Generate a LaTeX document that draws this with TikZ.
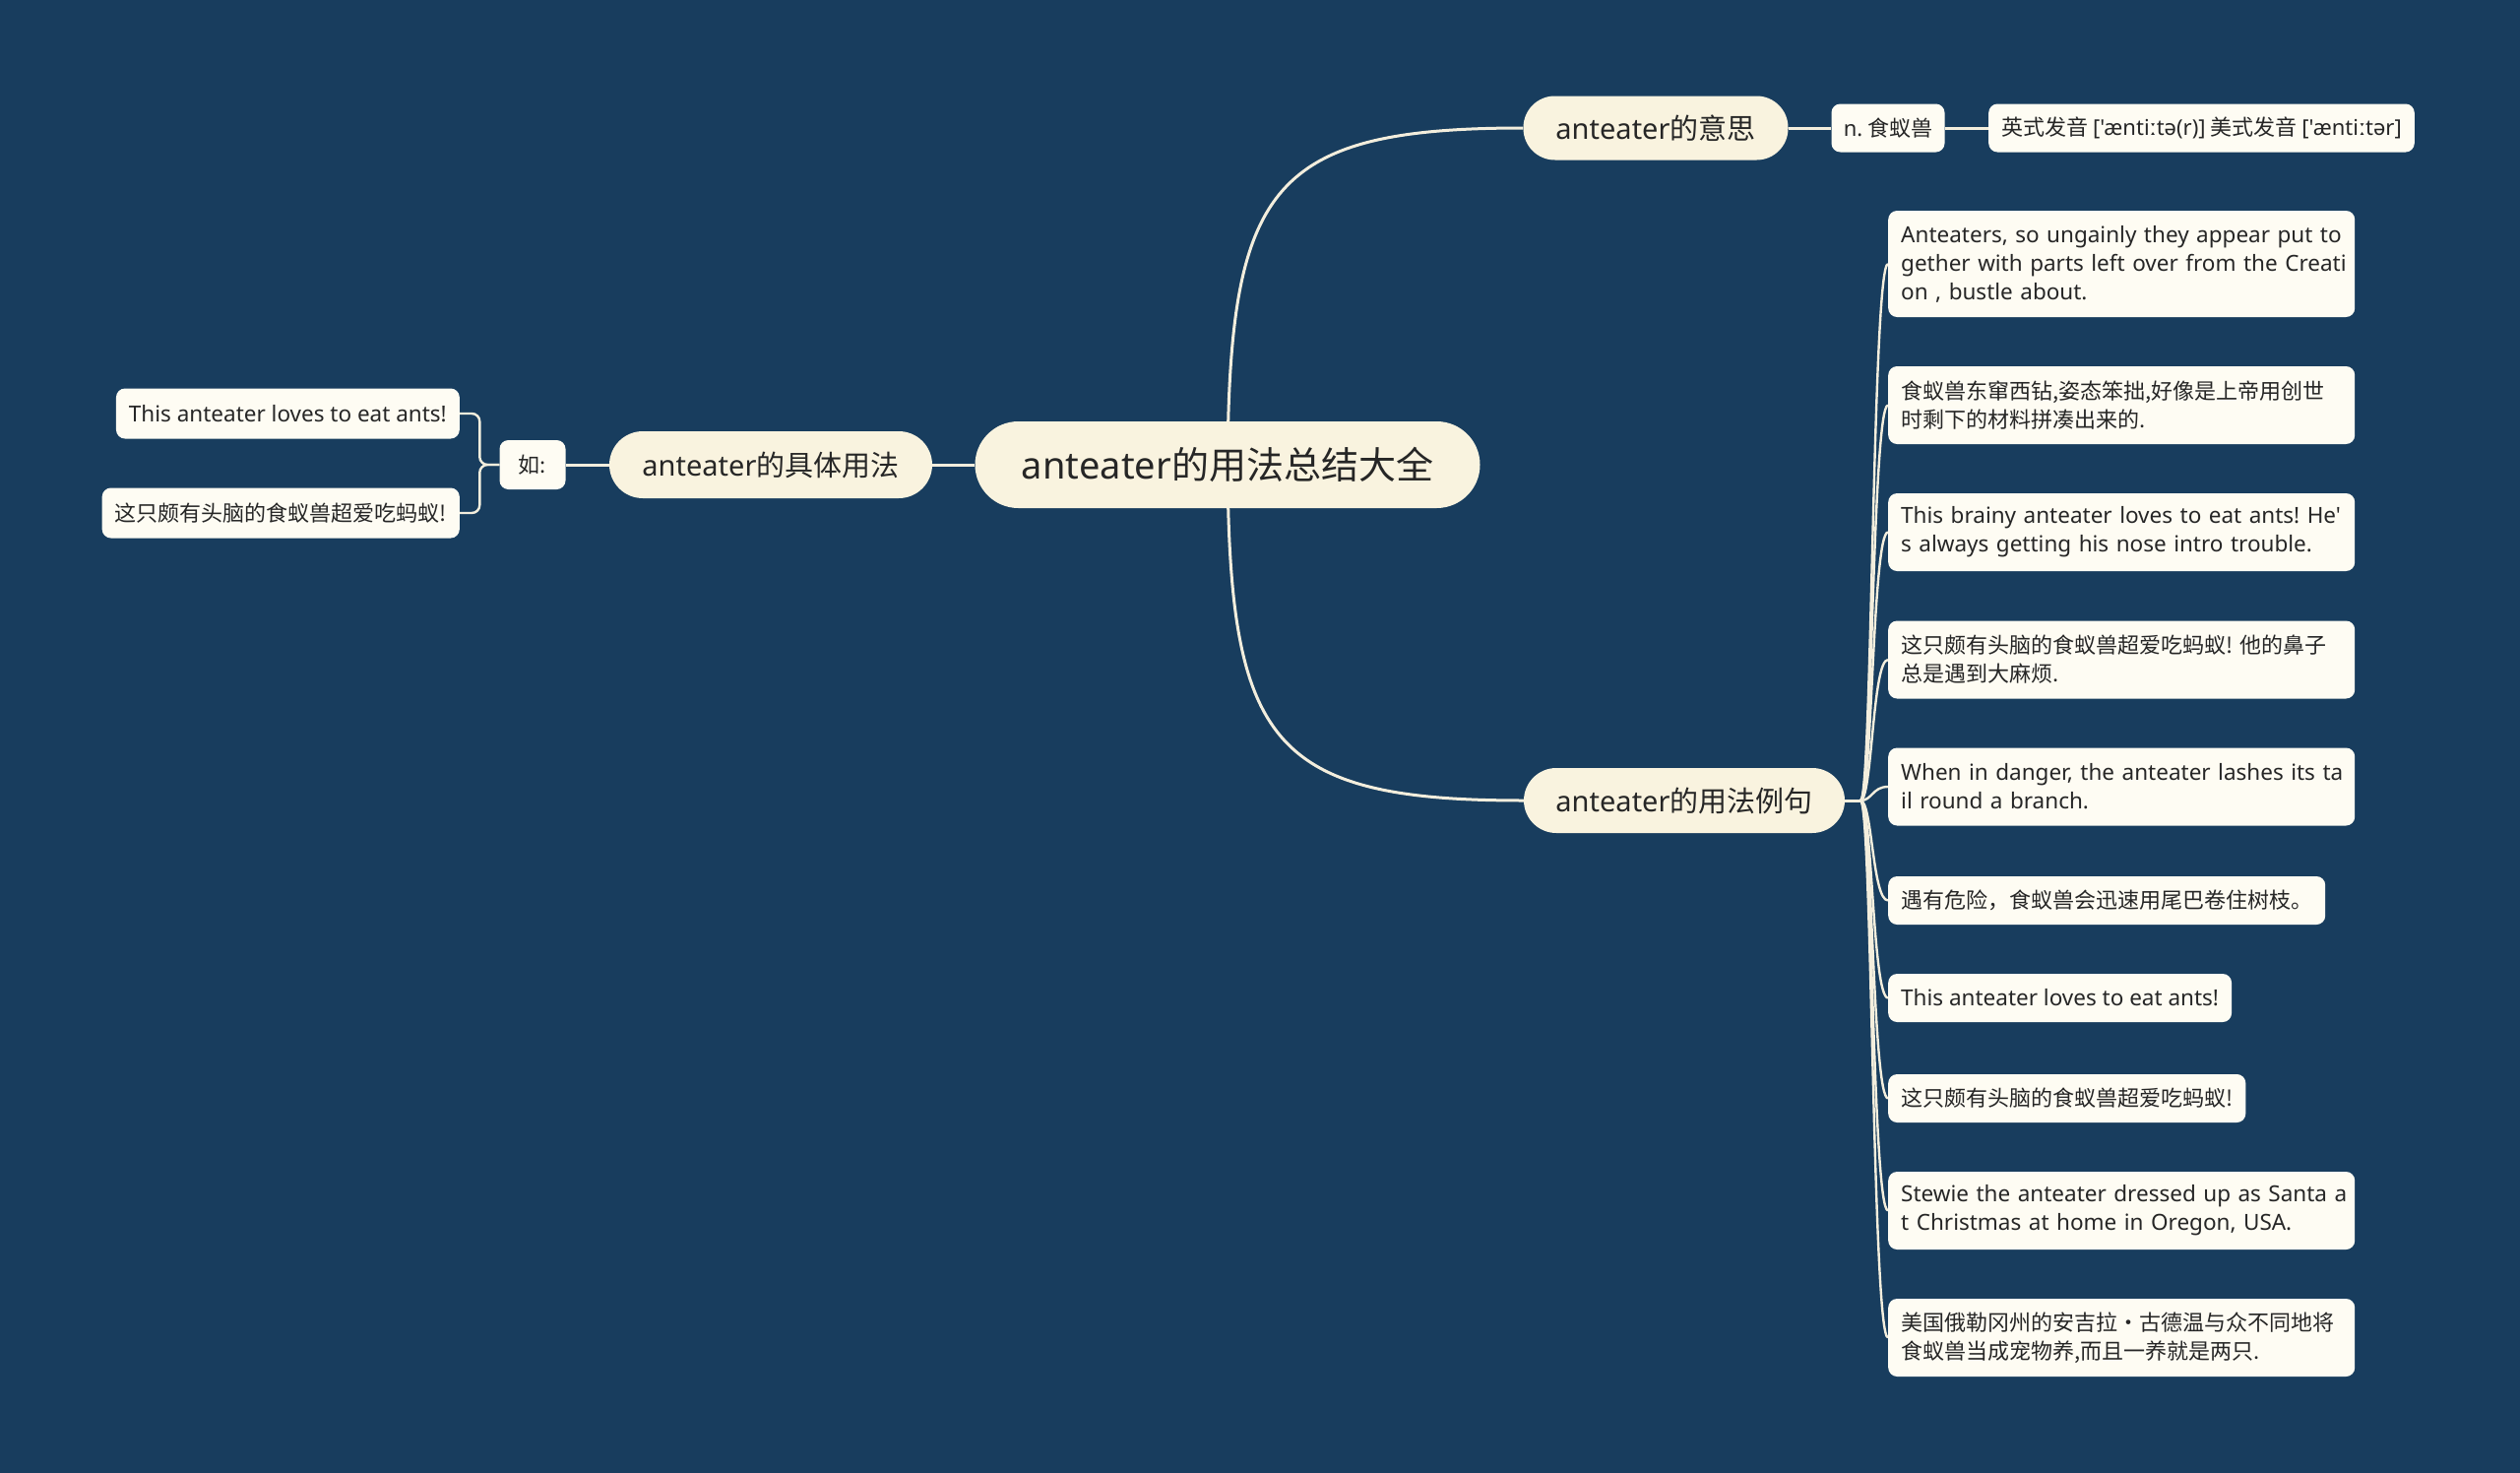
\documentclass[tikz,border=0pt]{standalone}
\usepackage{fontspec}
\setmainfont{Noto Sans CJK SC}
\newfontfamily\ipafont{Noto Sans}
\newfontfamily\lat{Noto Sans}
\usetikzlibrary{backgrounds}
\definecolor{bgc}{HTML}{183D5E}
\definecolor{mainfill}{HTML}{F9F3DF}
\definecolor{leaffill}{HTML}{FEFCF3}
\definecolor{linec}{HTML}{F3EEDD}
\definecolor{textc}{HTML}{262626}
\frenchspacing
\tikzset{
  mainnode/.style={fill=mainfill, text=textc, inner sep=0pt, font=\fontsize{29}{34}\selectfont},
  leafnode/.style={fill=leaffill, text=textc, rounded corners=9, inner xsep=13pt, inner ysep=0pt,
                   font=\fontsize{22}{29}\selectfont, align=left},
  latleaf/.style={leafnode, font=\lat\fontsize{22.5}{29}\selectfont},
  conn/.style={draw=linec, line width=3pt},
  thin/.style={draw=linec, line width=2.4pt}
}
\begin{document}
\begin{tikzpicture}[x=1pt, y=-1pt]
\useasboundingbox (0,0) rectangle (2560,1496);
% root and main branches
\node[mainnode, minimum width=513, minimum height=88, rounded corners=44, font=\fontsize{38}{44}\selectfont] (root) at (1247,472) {{\lat anteater}的用法总结大全};
\node[mainnode, minimum width=269, minimum height=65, rounded corners=32] (yisi) at (1682,130) {{\lat anteater}的意思};
\node[mainnode, minimum width=326, minimum height=66, rounded corners=33] (liju) at (1711,813) {{\lat anteater}的用法例句};
\node[mainnode, minimum width=328, minimum height=68, rounded corners=34] (juti) at (783,472) {{\lat anteater}的具体用法};
% left side
\node[leafnode, minimum width=67, minimum height=50, inner xsep=0pt] (ru) at (541,472) {如:};
\node[latleaf, minimum height=51, anchor=east] (l1) at (467,420) {This anteater loves to eat ants!};
\node[leafnode, minimum height=51, anchor=east] (l2) at (467,521) {这只颇有头脑的食蚁兽超爱吃蚂蚁!};
% meaning
\node[leafnode, minimum width=115, minimum height=49, inner xsep=0pt] (n) at (1918,130) {{\lat n.} 食蚁兽};
\node[leafnode, minimum height=49, anchor=west] (pron) at (2020,130) {英式发音 {\ipafont ['æntiːtə(r)]} 美式发音 {\ipafont ['æntiːtər]}};
% examples
\node[latleaf, text width=448pt, minimum height=108, anchor=west] (e1) at (1918,268) {\mbox{Anteaters, so ungainly they appear put to}\\\mbox{gether with parts left over from the Creati}\\\mbox{on , bustle about.}};
\node[leafnode, text width=448pt, minimum height=79, anchor=west] (e2) at (1918,411.5) {食蚁兽东窜西钻,姿态笨拙,好像是上帝用创世\\时剩下的材料拼凑出来的.};
\node[latleaf, text width=448pt, minimum height=79, anchor=west] (e3) at (1918,540.5) {\mbox{This brainy anteater loves to eat ants! He'}\\\mbox{s always getting his nose intro trouble.}};
\node[leafnode, text width=448pt, minimum height=79, anchor=west] (e4) at (1918,670) {这只颇有头脑的食蚁兽超爱吃蚂蚁! 他的鼻子\\总是遇到大麻烦.};
\node[latleaf, text width=448pt, minimum height=79, anchor=west] (e5) at (1918,799) {\mbox{When in danger, the anteater lashes its ta}\\\mbox{il round a branch.}};
\node[leafnode, minimum height=49, anchor=west] (e6) at (1918,914.5) {遇有危险，食蚁兽会迅速用尾巴卷住树枝。};
\node[latleaf, minimum height=49, anchor=west] (e7) at (1918,1013.5) {This anteater loves to eat ants!};
\node[leafnode, minimum height=49, anchor=west] (e8) at (1918,1115.5) {这只颇有头脑的食蚁兽超爱吃蚂蚁!};
\node[latleaf, text width=448pt, minimum height=79, anchor=west] (e9) at (1918,1229.5) {\mbox{Stewie the anteater dressed up as Santa a}\\\mbox{t Christmas at home in Oregon, USA.}};
\node[leafnode, text width=448pt, minimum height=79, anchor=west] (e10) at (1918,1358.5) {美国俄勒冈州的安吉拉·古德温与众不同地将\\食蚁兽当成宠物养,而且一养就是两只.};
\coordinate (hub) at (1890,813);
\coordinate (hubx) at (1902,813);
\begin{scope}[on background layer]
  \fill[bgc] (0,0) rectangle (2560,1496);
  \draw[conn] (root.center) .. controls (1249,190) and (1290,130) .. (yisi.west);
  \draw[conn] (root.center) .. controls (1249,754) and (1290,813) .. (liju.west);
  \draw[conn] (root.west) -- (juti.east);
  \draw[conn] (juti.west) -- (ru.east);
  \draw[thin, rounded corners=8] (ru.west) -- ++(-20,0) |- (l1.east);
  \draw[thin, rounded corners=8] (ru.west) -- ++(-20,0) |- (l2.east);
  \draw[conn] (yisi.east) -- (n.west);
  \draw[conn] (n.east) -- (pron.west);
  \draw[conn] (liju.east) -- (hub);
  \foreach \e in {e1,e2,e3,e4,e5,e6,e7,e8,e9,e10}
    \draw[thin] (hub) .. controls (hubx) and (hubx |- \e.west) .. (\e.west);
\end{scope}
\end{tikzpicture}
\end{document}
